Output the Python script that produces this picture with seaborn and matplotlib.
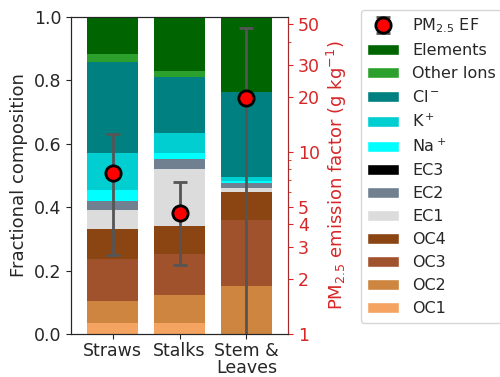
import numpy as np
import pandas as pd
import matplotlib
matplotlib.use("Agg")
import matplotlib.pyplot as plt
from matplotlib.patches import Patch
from matplotlib.ticker import FixedLocator, FixedFormatter, NullFormatter, LogLocator
import seaborn as sns

# Sample types
samples = ["Straws", "Stalks", "Stem &\nLeaves"]

# Fractional composition of PM2.5 per component (bottom to top)
OC1 = [0.036, 0.036, 0.000]
OC2 = [0.068, 0.088, 0.152]
OC3 = [0.133, 0.127, 0.208]
OC4 = [0.095, 0.090, 0.086]
EC1 = [0.059, 0.180, 0.014]
EC2 = [0.029, 0.030, 0.015]
EC3 = [0.000, 0.000, 0.000]
Na = [0.033, 0.019, 0.008]
K = [0.116, 0.064, 0.013]
Cl = [0.289, 0.177, 0.265]
OtherIons = [0.025, 0.018, 0.002]
Elements = [0.117, 0.171, 0.239]

# PM2.5 emission factors (g/kg) with their spread
ef_mean = [7.6, 4.6, 19.6]
ef_err = [4.9, 2.2, 28.0]

components = [
    ("OC1", OC1, "#F4A460"),
    ("OC2", OC2, "#CD853F"),
    ("OC3", OC3, "#A0522D"),
    ("OC4", OC4, "#8B4513"),
    ("EC1", EC1, "#DCDCDC"),
    ("EC2", EC2, "#708090"),
    ("EC3", EC3, "#000000"),
    ("Na$^+$", Na, "#00FFFF"),
    ("K$^+$", K, "#00CED1"),
    ("Cl$^-$", Cl, "#008080"),
    ("Other Ions", OtherIons, "#2CA02C"),
    ("Elements", Elements, "#006400"),
]

sns.set_style("ticks")
plt.rcParams["font.family"] = ["DejaVu Sans"]
plt.rcParams["font.size"] = 12

fig = plt.figure(figsize=(5.0, 3.77), dpi=100)
ax = fig.add_axes([0.142, 0.114, 0.434, 0.842])

# stacked bars: draw cumulative totals from the top layer down
cum = np.cumsum(np.array([c[1] for c in components]), axis=0)
for i in range(len(components) - 1, -1, -1):
    df = pd.DataFrame({"sample": samples, "value": cum[i]})
    sns.barplot(data=df, x="sample", y="value", color=components[i][2],
                saturation=1, width=0.75, linewidth=0, ax=ax, errorbar=None)

ax.set_xlim(-0.62, 2.62)
ax.set_ylim(0, 1.0)
ax.set_xlabel("")
ax.set_ylabel("Fractional composition", fontsize=13)
ax.tick_params(labelsize=12.5)
ax.tick_params(axis="x", pad=2.5)
for lbl in ax.get_xticklabels():
    lbl.set_linespacing(0.88)
for s in ax.spines.values():
    s.set_color("#333333")

# emission factor on a log axis
red = "#D62728"
ax2 = ax.twinx()
eb = ax2.errorbar(np.arange(len(samples)), ef_mean, yerr=ef_err, fmt="o",
                  color="#555555", ecolor="#555555", elinewidth=2, capsize=5,
                  capthick=2, markerfacecolor="red", markeredgecolor="black",
                  markersize=11, markeredgewidth=2)
ax2.set_yscale("log")
ax2.set_ylim(1, 55)
ticks = [1, 2, 3, 4, 5, 10, 20, 30, 50]
ax2.yaxis.set_major_locator(FixedLocator(ticks))
ax2.yaxis.set_major_formatter(FixedFormatter([str(t) for t in ticks]))
ax2.yaxis.set_minor_locator(LogLocator(subs=np.arange(2, 10)))
ax2.yaxis.set_minor_formatter(NullFormatter())
ax2.tick_params(axis="y", which="both", colors=red, labelsize=12.5)
ax2.spines["right"].set_color(red)
ax2.spines["right"].set_alpha(0.7)
ax2.set_ylabel("PM$_{2.5}$ emission factor (g kg$^{-1}$)", color=red, fontsize=13)
ax2.set_xlim(-0.62, 2.62)

handles = [eb] + [Patch(facecolor=c[2], label=c[0]) for c in components[::-1]]
labels = ["PM$_{2.5}$ EF"] + [c[0] for c in components[::-1]]
fig.legend(handles, labels, loc="upper left", bbox_to_anchor=(0.722, 0.974),
           borderaxespad=0, fontsize=11.5, frameon=True)

fig.savefig("out.png", dpi=100)
